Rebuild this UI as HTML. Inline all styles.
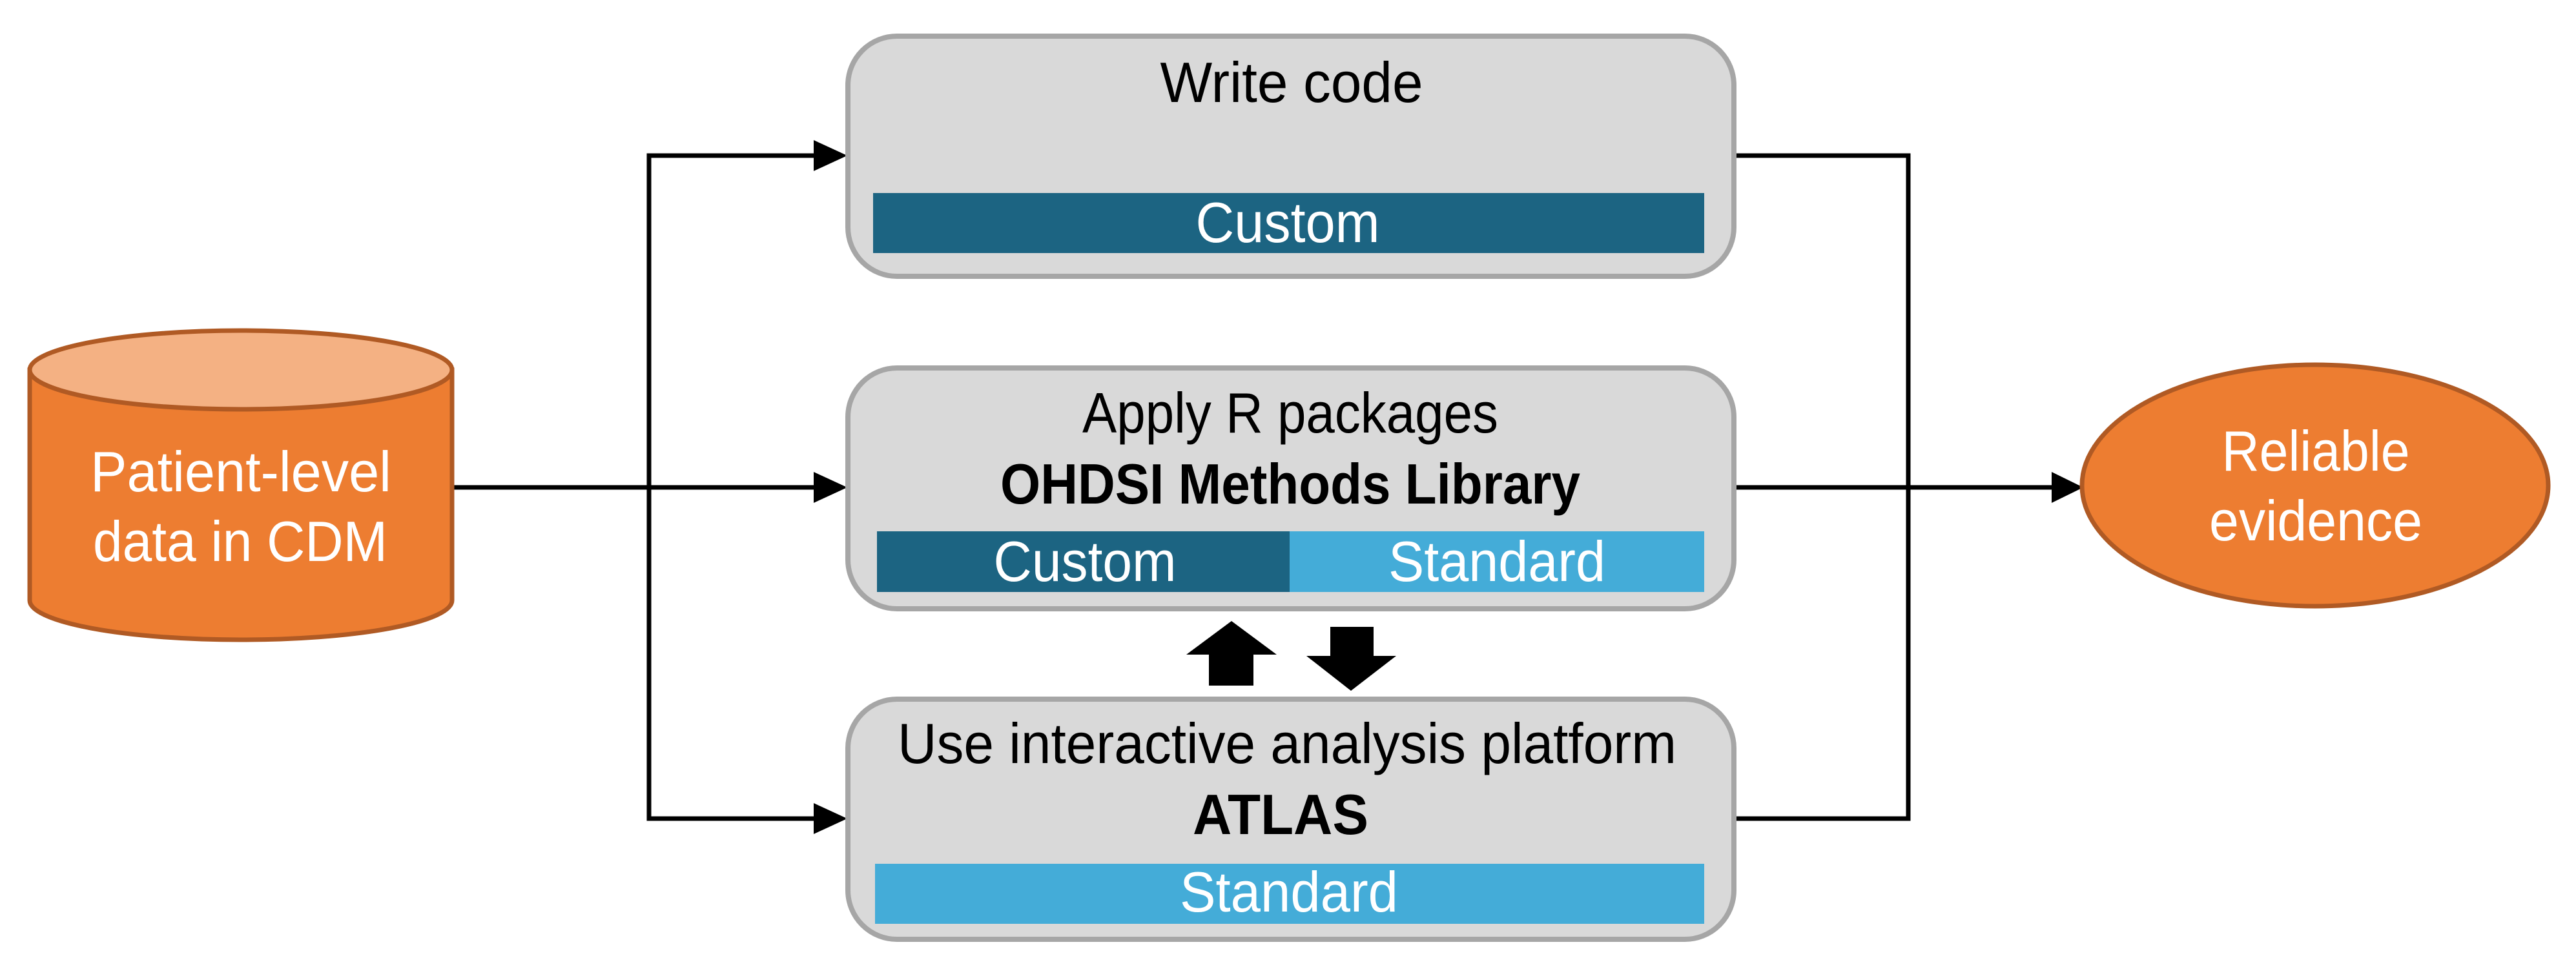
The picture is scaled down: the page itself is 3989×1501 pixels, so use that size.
<!DOCTYPE html>
<html><head><meta charset="utf-8"><style>html,body{margin:0;padding:0;background:#fff}svg{display:block}</style></head>
<body>
<svg width="3989" height="1501" viewBox="0 0 3989 1501" xmlns="http://www.w3.org/2000/svg" font-family="Liberation Sans, sans-serif">
<!-- connectors -->
<g stroke="#000" stroke-width="7" fill="none">
<polyline points="1262,241 1005,241 1005,1268 1262,1268"/>
<line x1="700" y1="755" x2="1262" y2="755"/>
<polyline points="2685,241 2955,241 2955,1268 2685,1268"/>
<line x1="2685" y1="755" x2="3180" y2="755"/>
</g>
<g fill="#000">
<polygon points="1260,217 1312,241 1260,265"/>
<polygon points="1260,731 1312,755 1260,779"/>
<polygon points="1260,1244 1312,1268 1260,1292"/>
<polygon points="3177,731 3226,755 3177,779"/>
<polygon points="1907,962 1977,1014 1941,1014 1941,1062 1872,1062 1872,1014 1837,1014"/>
<polygon points="2092,1070 2162,1016 2127,1016 2127,971 2060,971 2060,1016 2023,1016"/>
</g>
<!-- cylinder -->
<path d="M46,573 L46,930 A327,61 0 0 0 700,930 L700,573 Z" fill="#ed7d31" stroke="#b05a24" stroke-width="7"/>
<ellipse cx="373" cy="573" rx="327" ry="61" fill="#f4b183" stroke="#b05a24" stroke-width="7"/>
<g fill="#fff" font-size="88" text-anchor="middle">
<text x="373" y="761" textLength="466" lengthAdjust="spacingAndGlyphs">Patient-level</text>
<text x="372" y="869" textLength="456" lengthAdjust="spacingAndGlyphs">data in CDM</text>
</g>
<!-- ellipse -->
<ellipse cx="3585" cy="752" rx="361" ry="187" fill="#ed7d31" stroke="#b05a24" stroke-width="7"/>
<g fill="#fff" font-size="88" text-anchor="middle">
<text x="3586" y="729" textLength="291" lengthAdjust="spacingAndGlyphs">Reliable</text>
<text x="3586" y="837" textLength="330" lengthAdjust="spacingAndGlyphs">evidence</text>
</g>
<!-- boxes -->
<g fill="#d9d9d9" stroke="#a6a6a6" stroke-width="8">
<rect x="1313" y="56" width="1372" height="372" rx="76"/>
<rect x="1313" y="570" width="1372" height="373" rx="76"/>
<rect x="1313" y="1083" width="1372" height="372" rx="76"/>
</g>
<rect x="1352" y="299" width="1287" height="93" fill="#1c6482"/>
<rect x="1358" y="823" width="640" height="94" fill="#1c6482"/>
<rect x="1997" y="823" width="642" height="94" fill="#44acd8"/>
<rect x="1355" y="1338" width="1284" height="93" fill="#44acd8"/>
<g font-size="88" text-anchor="middle" fill="#000">
<text x="2000" y="158" textLength="407" lengthAdjust="spacingAndGlyphs">Write code</text>
<text x="1998" y="670" textLength="644" lengthAdjust="spacingAndGlyphs">Apply R packages</text>
<text x="1998" y="780" font-weight="bold" textLength="898" lengthAdjust="spacingAndGlyphs">OHDSI Methods Library</text>
<text x="1993" y="1182" textLength="1206" lengthAdjust="spacingAndGlyphs">Use interactive analysis platform</text>
<text x="1983" y="1292" font-weight="bold" textLength="272" lengthAdjust="spacingAndGlyphs">ATLAS</text>
</g>
<g font-size="88" text-anchor="middle" fill="#fff">
<text x="1994" y="375" textLength="285" lengthAdjust="spacingAndGlyphs">Custom</text>
<text x="1680" y="900" textLength="283" lengthAdjust="spacingAndGlyphs">Custom</text>
<text x="2318" y="900" textLength="336" lengthAdjust="spacingAndGlyphs">Standard</text>
<text x="1996" y="1412" textLength="338" lengthAdjust="spacingAndGlyphs">Standard</text>
</g>
</svg>
</body></html>
